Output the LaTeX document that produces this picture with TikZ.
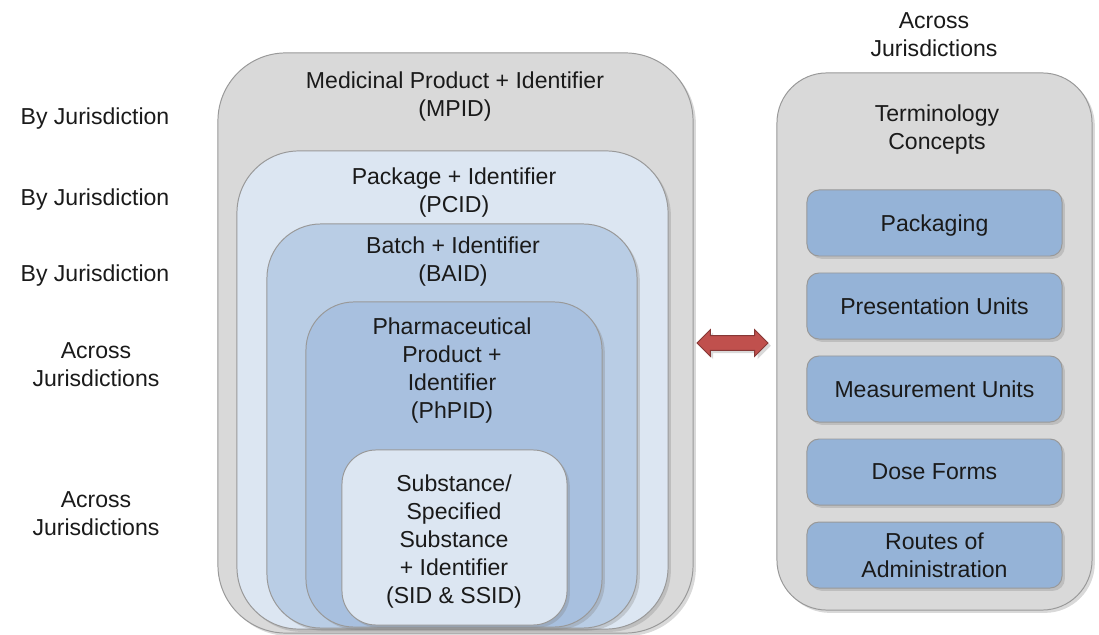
\documentclass[tikz,border=0pt]{standalone}
\usepackage{fontspec}
\setmainfont{Liberation Sans}
\usetikzlibrary{positioning, shadows, shapes.arrows}
\definecolor{outergray}{HTML}{D9D9D9}
\definecolor{palebox}{HTML}{DCE6F2}
\definecolor{midbox}{HTML}{B9CDE5}
\definecolor{deepbox}{HTML}{A8C0DF}
\definecolor{termbox}{HTML}{95B3D7}
\definecolor{linkred}{HTML}{C0504D}
\definecolor{inktext}{HTML}{1A1A1A}

\begin{document}
\begin{tikzpicture}[
    x=0.025cm, y=-0.025cm,
    shell/.style={rectangle, draw=black!40, line width=0.7pt, inner sep=0pt, drop shadow={shadow xshift=2pt, shadow yshift=-2pt, opacity=0.3}},
    caption/.style={align=center, text=inktext, font=\fontsize{16.4}{19.9}\selectfont, inner sep=0pt},
    term/.style={shell, fill=termbox, rounded corners=0.3cm, minimum width=6.375cm, minimum height=1.65cm, align=center, text depth=0pt, text=inktext, font=\fontsize{16.4}{19.9}\selectfont}
]
\useasboundingbox (0,0) rectangle (1099,635);

% Nested boxes
\node[shell, fill=outergray, rounded corners=1.7cm, minimum width=11.875cm, minimum height=14.5cm] (mpid) at (455.5,343) {};
\node[shell, fill=palebox, rounded corners=1.55cm, minimum width=10.775cm, minimum height=11.95cm] (pcid) at (452.5,390) {};
\node[shell, fill=midbox, rounded corners=1.35cm, minimum width=9.25cm, minimum height=10.1cm] (baid) at (452,426) {};
\node[shell, fill=deepbox, rounded corners=1.2cm, minimum width=7.4cm, minimum height=8.125cm] (phpid) at (454,464.5) {};
\node[shell, fill=palebox, rounded corners=0.85cm, minimum width=5.625cm, minimum height=4.375cm] (sid) at (454.5,537.5) {};

% Box captions
\node[caption] (mpidtxt) at (455,97) {Medicinal Product + Identifier\\(MPID)};
\node[caption] (pcidtxt) at (454,193) {Package + Identifier\\(PCID)};
\node[caption] (baidtxt) at (453,262) {Batch + Identifier\\(BAID)};
\node[caption] (phpidtxt) at (452,370.5) {Pharmaceutical\\Product +\\Identifier\\(PhPID)};
\node[caption] (sidtxt) at (454,541.5) {Substance/\\Specified\\Substance\\+ Identifier\\(SID \& SSID)};

% Scope labels
\node[caption] (scope1) at (95,119) {By Jurisdiction};
\node[caption] (scope2) at (95,200) {By Jurisdiction};
\node[caption] (scope3) at (95,276) {By Jurisdiction};
\node[caption] (scope4) at (96,365) {Across\\Jurisdictions};
\node[caption] (scope5) at (96,514) {Across\\Jurisdictions};
\node[caption] (scopeterm) at (934,34.5) {Across\\Jurisdictions};

% Terminology column
\node[shell, fill=outergray, rounded corners=1.25cm, minimum width=7.875cm, minimum height=13.425cm] (concepts) at (934.5,341.5) {};
\node[caption] (conceptstxt) at (937,130) {Terminology\\Concepts};
\node[term] (pack) at (934.5,223) {Packaging};
\node[term, below=0.4cm of pack] (present) {Presentation Units};
\node[term, below=0.4cm of present] (measure) {Measurement Units};
\node[term, below=0.4cm of measure] (dose) {Dose Forms};
\node[term, below=0.4cm of dose] (route) {Routes of\\Administration};

% Link
\node[double arrow, fill=linkred, draw=linkred!70!black, line width=0.7pt, minimum height=1.775cm, minimum width=0.65cm, inner xsep=0pt, inner ysep=0.17cm, double arrow head extend=0.15cm, drop shadow={shadow xshift=2pt, shadow yshift=-2pt, opacity=0.3}] (link) at (732.5,343) {};

\end{tikzpicture}
\end{document}
